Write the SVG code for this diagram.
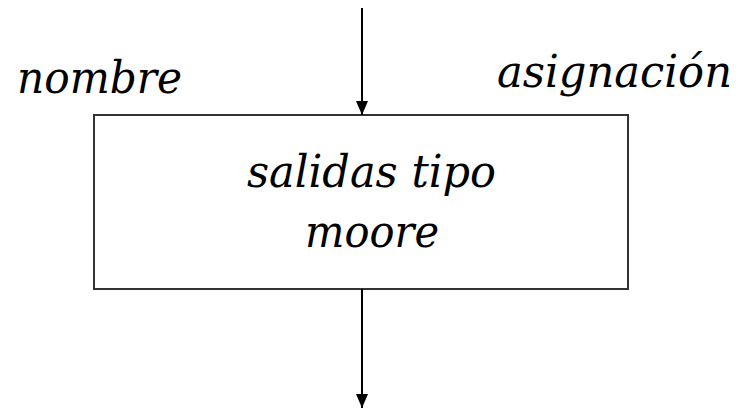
<svg xmlns="http://www.w3.org/2000/svg" width="747" height="410" viewBox="0 0 747 410">
<style>
.t{font-family:'DejaVu Serif',serif;font-style:italic;font-size:45px;fill:#000}
.c{stroke:#000;stroke-width:2;fill:none}
</style>
<defs>
<marker id="ah" markerWidth="14" markerHeight="12" refX="14" refY="6" orient="auto" markerUnits="userSpaceOnUse">
<path d="M0,0 L14,6 L0,12 Z" fill="#000"/>
</marker>
</defs>
<rect width="747" height="410" fill="#fff"/>
<g id="labels">
<text class="t" x="17" y="93" textLength="165" lengthAdjust="spacingAndGlyphs">nombre</text>
<text class="t" x="497" y="87" textLength="235" lengthAdjust="spacingAndGlyphs">asignación</text>
</g>
<g id="node-box">
<rect x="94" y="115" width="534" height="174" fill="#fff" stroke="#333" stroke-width="2"/>
<text class="t" x="247" y="187" textLength="249" lengthAdjust="spacingAndGlyphs">salidas tipo</text>
<text class="t" x="305" y="247" textLength="134" lengthAdjust="spacingAndGlyphs">moore</text>
</g>
<g id="connectors">
<line class="c" x1="362" y1="8" x2="362" y2="115" marker-end="url(#ah)"/>
<line class="c" x1="362" y1="289" x2="362" y2="408" marker-end="url(#ah)"/>
</g>
</svg>
